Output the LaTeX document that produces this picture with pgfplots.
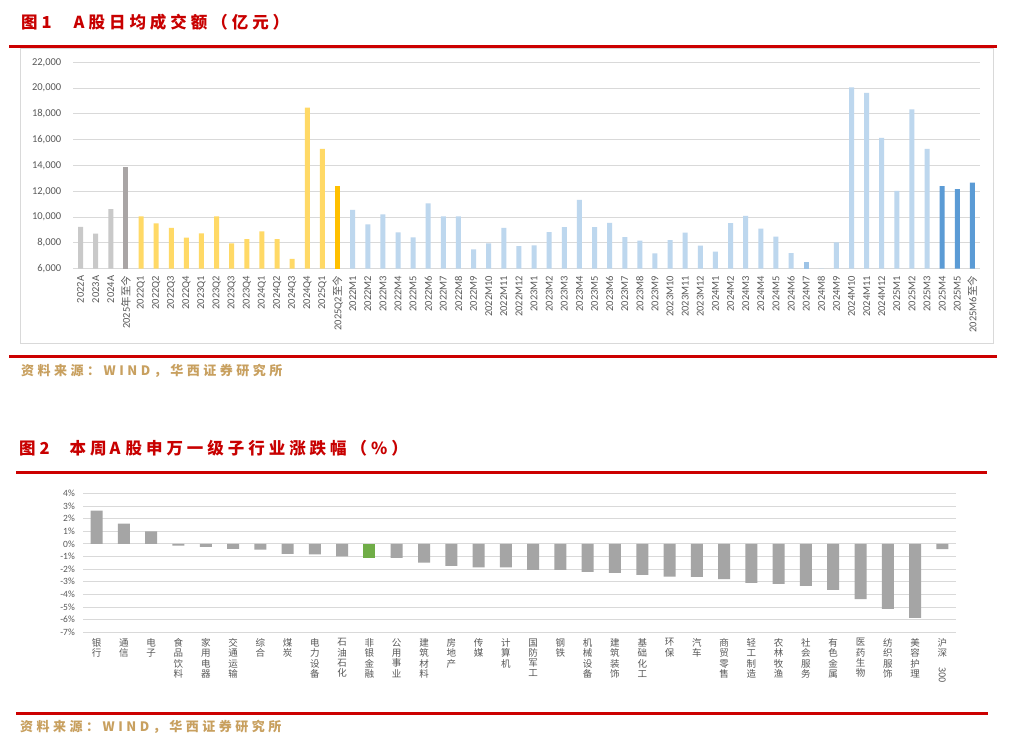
\documentclass[border=0pt]{standalone}
\usepackage{fontspec}
\usepackage{graphicx}
\usepackage{pgfplots}
\pgfplotsset{compat=1.18}
\setmainfont{Carlito}
\newfontfamily\cjk{Noto Sans CJK SC}
\newfontfamily\cjktitle[LetterSpace=24]{Noto Sans CJK SC}
\newfontfamily\cjksrc[LetterSpace=27]{Noto Sans CJK SC}

\definecolor{gridgray}{HTML}{D9D9D9}
\definecolor{framegray}{HTML}{D9D9D9}
\definecolor{ticktext}{HTML}{595959}
\definecolor{titlered}{RGB}{200,0,0}
\definecolor{linered}{RGB}{204,0,0}
\definecolor{srcgold}{RGB}{200,160,95}
\definecolor{annualgray}{HTML}{C9C9C9}
\definecolor{ytdgray}{HTML}{A9A5A5}
\definecolor{qyellow}{HTML}{FFD966}
\definecolor{qgold}{HTML}{FFC000}
\definecolor{mblue}{HTML}{BDD7EE}
\definecolor{mblue2}{HTML}{9DC3E6}
\definecolor{mdark}{HTML}{5B9BD5}
\definecolor{bargray}{HTML}{A5A5A5}
\definecolor{bargreen}{HTML}{70AD47}

\begin{document}
\begin{tikzpicture}
\path[use as bounding box] (0,0) rectangle (1014pt,-740pt);
\fill[white] (0,0) rectangle (1014pt,-740pt);

% ---- figure 1 header
\node[anchor=west, inner sep=0pt, text=titlered,
      font=\cjktitle\bfseries\fontsize{16.5}{18}\selectfont]
  at (21pt,-22.5pt) {图\hspace{4pt}1\hspace{22pt}A股日均成交额（亿元）};
\draw[linered, line width=3pt] (9pt,-46.7pt) -- (997pt,-46.7pt);
\draw[framegray, line width=1pt] (20.5pt,-48.5pt) rectangle (993.5pt,-343pt);

\begin{axis}[
  at={(73pt,-268.7pt)}, anchor=south west,
  scale only axis, width=907pt, height=206.4pt,
  xmin=-0.5, xmax=59.5, ymin=6000, ymax=22000,
  scaled y ticks=false,
  ytick={6000,8000,...,22000},
  yticklabels={{6,000},{8,000},{10,000},{12,000},{14,000},{16,000},{18,000},{20,000},{22,000}},
  xtick={0,...,59},
  xticklabels={{2022A},{2023A},{2024A},{2025{\cjk 年至今}},
    {2022Q1},{2022Q2},{2022Q3},{2022Q4},{2023Q1},{2023Q2},{2023Q3},{2023Q4},
    {2024Q1},{2024Q2},{2024Q3},{2024Q4},{2025Q1},{2025Q2{\cjk 至今}},
    {2022M1},{2022M2},{2022M3},{2022M4},{2022M5},{2022M6},{2022M7},{2022M8},
    {2022M9},{2022M10},{2022M11},{2022M12},
    {2023M1},{2023M2},{2023M3},{2023M4},{2023M5},{2023M6},{2023M7},{2023M8},
    {2023M9},{2023M10},{2023M11},{2023M12},
    {2024M1},{2024M2},{2024M3},{2024M4},{2024M5},{2024M6},{2024M7},{2024M8},
    {2024M9},{2024M10},{2024M11},{2024M12},
    {2025M1},{2025M2},{2025M3},{2025M4},{2025M5},{2025M6{\cjk 至今}}},
  ymajorgrids, grid style={gridgray, line width=0.9pt},
  axis line style={draw=none},
  major tick length=0pt,
  tick label style={text=ticktext},
  yticklabel style={font=\fontsize{10.5}{12}\selectfont, anchor=east, inner xsep=11.5pt},
  xticklabel style={font=\fontsize{10.5}{12}\selectfont, rotate=90, anchor=east, inner xsep=7pt, inner ysep=0pt},
  ybar, bar width=5pt,
]
\addplot[fill=annualgray, draw=none, bar shift=0pt] coordinates {(0,9250) (1,8710) (2,10620)};
\addplot[fill=ytdgray, draw=none, bar shift=0pt] coordinates {(3,13850)};
\addplot[fill=qyellow, draw=none, bar shift=0pt] coordinates {
  (4,10050) (5,9510) (6,9170) (7,8400) (8,8740) (9,10050) (10,7960)
  (11,8300) (12,8890) (13,8300) (14,6770) (15,18490) (16,15290)};
\addplot[fill=qgold, draw=none, bar shift=0pt] coordinates {(17,12430)};
\addplot[fill=mblue, draw=none, bar shift=0pt] coordinates {
  (18,10570) (19,9430) (20,10210) (21,8810) (22,8430) (23,11060) (24,10050)
  (25,10050) (26,7500) (27,7960) (28,9170) (29,7750) (30,7810) (31,8840)
  (32,9230) (33,11340) (34,9230) (35,9560) (36,8450) (37,8170) (38,7190)
  (39,8220) (40,8790) (41,7780) (42,7320) (43,9540) (44,10100) (45,9100)
  (46,8480) (47,7210) (49,5900) (50,8040) (51,20060) (52,19630) (53,16140)
  (54,12040) (55,18360) (56,15290)};
\addplot[fill=mblue2, draw=none, bar shift=0pt] coordinates {(48,6520)};
\addplot[fill=mdark, draw=none, bar shift=0pt] coordinates {(57,12400) (58,12170) (59,12680)};
\end{axis}

\draw[linered, line width=3pt] (9pt,-356.7pt) -- (997pt,-356.7pt);
\node[anchor=west, inner sep=0pt, text=srcgold, font=\cjksrc\bfseries\fontsize{13}{15}\selectfont]
  at (21pt,-370.7pt) {资料来源：WIND，华西证券研究所};

% ---- figure 2 header
\node[anchor=west, inner sep=0pt, text=titlered,
      font=\cjktitle\bfseries\fontsize{16.5}{18}\selectfont]
  at (19pt,-448pt) {图\hspace{4pt}2\hspace{20pt}本周\hspace{3pt}A\hspace{5pt}股申万一级子行业涨跌幅（\%）};
\draw[linered, line width=3.5pt] (16pt,-472.7pt) -- (987pt,-472.7pt);

\begin{axis}[
  at={(83pt,-632.3pt)}, anchor=south west,
  scale only axis, width=873pt, height=139pt,
  xmin=-0.5, xmax=31.5, ymin=-7, ymax=4,
  ytick={-7,-6,-5,-4,-3,-2,-1,0,1,2,3,4},
  yticklabels={-7\%,-6\%,-5\%,-4\%,-3\%,-2\%,-1\%,0\%,1\%,2\%,3\%,4\%},
  xtick={0,...,31},
  xticklabels={{银\\行},{通\\信},{电\\子},{食\\品\\饮\\料},{家\\用\\电\\器},
    {交\\通\\运\\输},{综\\合},{煤\\炭},{电\\力\\设\\备},{石\\油\\石\\化},
    {非\\银\\金\\融},{公\\用\\事\\业},{建\\筑\\材\\料},{房\\地\\产},{传\\媒},
    {计\\算\\机},{国\\防\\军\\工},{钢\\铁},{机\\械\\设\\备},{建\\筑\\装\\饰},
    {基\\础\\化\\工},{环\\保},{汽\\车},{商\\贸\\零\\售},{轻\\工\\制\\造},
    {农\\林\\牧\\渔},{社\\会\\服\\务},{有\\色\\金\\属},{医\\药\\生\\物},
    {纺\\织\\服\\饰},{美\\容\\护\\理},{沪\\深\\\rotatebox{-90}{300}}},
  ymajorgrids, grid style={gridgray, line width=0.8pt},
  axis line style={draw=none},
  major tick length=0pt,
  tick label style={text=ticktext},
  yticklabel style={font=\fontsize{9.5}{11}\selectfont, anchor=east, inner xsep=8pt},
  xticklabel style={font=\cjk\fontsize{9.5}{10.3}\selectfont, align=center, anchor=north, inner ysep=6pt},
  ybar, bar width=12pt,
]
\addplot[fill=bargray, draw=none, bar shift=0pt] coordinates {
  (0,2.64) (1,1.61) (2,0.98) (3,-0.13) (4,-0.24) (5,-0.40) (6,-0.45)
  (7,-0.79) (8,-0.84) (9,-1.00) (11,-1.10) (12,-1.48) (13,-1.74)
  (14,-1.87) (15,-1.87) (16,-2.06) (17,-2.06) (18,-2.22) (19,-2.30)
  (20,-2.45) (21,-2.59) (22,-2.61) (23,-2.80) (24,-3.09) (25,-3.17)
  (26,-3.32) (27,-3.64) (28,-4.38) (29,-5.15) (30,-5.86) (31,-0.42)};
\addplot[fill=bargreen, draw=none, bar shift=0pt] coordinates {(10,-1.11)};
\end{axis}

\draw[linered, line width=3.5pt] (16pt,-713.5pt) -- (988pt,-713.5pt);
\node[anchor=west, inner sep=0pt, text=srcgold, font=\cjksrc\bfseries\fontsize{13}{15}\selectfont]
  at (20pt,-726.7pt) {资料来源：WIND，华西证券研究所};
\end{tikzpicture}
\end{document}
